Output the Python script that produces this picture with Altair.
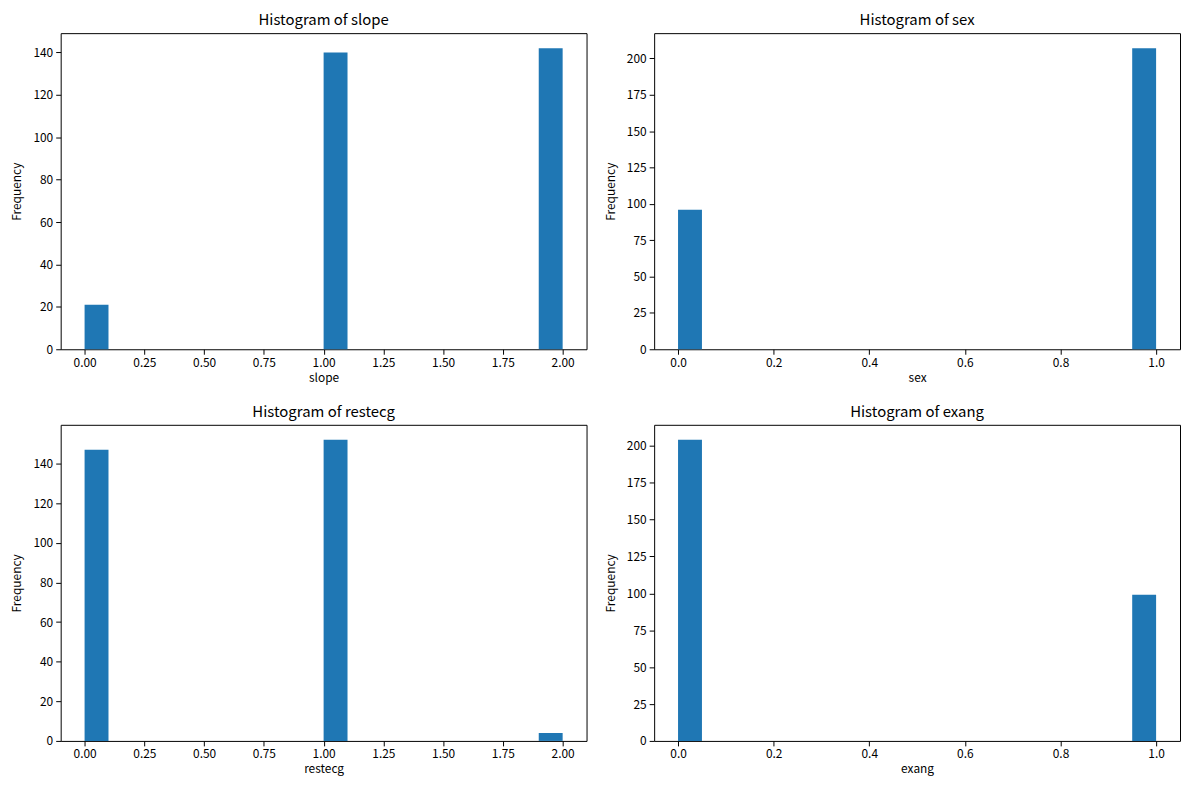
import altair as alt
import pandas as pd
import math

# ---- data ----
slope_values = [0, 1, 2]
slope_counts = [21, 140, 142]
sex_values = [0, 1]
sex_counts = [96, 207]
restecg_values = [0, 1, 2]
restecg_counts = [147, 152, 4]
exang_values = [0, 1]
exang_counts = [204, 99]

slope_yticks = [0, 20, 40, 60, 80, 100, 120, 140]
sex_yticks = [0, 25, 50, 75, 100, 125, 150, 175, 200]
restecg_yticks = [0, 20, 40, 60, 80, 100, 120, 140]
exang_yticks = [0, 25, 50, 75, 100, 125, 150, 175, 200]
xticks_012 = [0.0, 0.25, 0.5, 0.75, 1.0, 1.25, 1.5, 1.75, 2.0]
xticks_01 = [0.0, 0.2, 0.4, 0.6, 0.8, 1.0]

N_BINS = 20
BLUE = "#1f77b4"
FONT = "Noto Sans CJK SC"
W, H = 529, 318


def panel(name, values, counts, yticks, xticks, xfmt):
    vmin, vmax = min(values), max(values)
    bw = (vmax - vmin) / N_BINS
    starts, ends = [], []
    for v in values:
        k = min(int(math.floor((v - vmin) / bw + 1e-9)), N_BINS - 1)
        starts.append(vmin + k * bw)
        ends.append(vmin + (k + 1) * bw)
    df = pd.DataFrame({"x0": starts, "x1": ends, "count": counts})
    span = vmax - vmin
    xdom = [vmin - 0.05 * span, vmax + 0.05 * span]
    ydom = [0, max(counts) * 1.05]
    return (
        alt.Chart(df)
        .mark_rect(color=BLUE)
        .encode(
            x=alt.X(
                "x0:Q",
                scale=alt.Scale(domain=xdom, nice=False, zero=False),
                axis=alt.Axis(values=xticks, format=xfmt, title=name),
            ),
            x2="x1:Q",
            y=alt.Y(
                "count:Q",
                scale=alt.Scale(domain=ydom, nice=False),
                axis=alt.Axis(values=yticks, title="Frequency"),
            ),
            y2=alt.datum(0),
        )
        .properties(
            width=W,
            height=H,
            title=alt.TitleParams(
                f"Histogram of {name}", fontSize=15, font=FONT,
                fontWeight="normal", offset=5, color="black",
            ),
        )
    )


p1 = panel("slope", slope_values, slope_counts, slope_yticks, xticks_012, ".2f")
p2 = panel("sex", sex_values, sex_counts, sex_yticks, xticks_01, ".1f")
p3 = panel("restecg", restecg_values, restecg_counts, restecg_yticks, xticks_012, ".2f")
p4 = panel("exang", exang_values, exang_counts, exang_yticks, xticks_01, ".1f")

row1 = alt.hconcat(p1, p2, spacing=16)
row2 = alt.hconcat(p3, p4, spacing=16)

chart = (
    alt.vconcat(row1, row2, spacing=20)
    .properties(padding={"left": 2, "top": 2, "right": 0, "bottom": 0})
    .configure_view(stroke="black", strokeWidth=1)
    .configure_axis(
        grid=False,
        domain=False,
        tickColor="black",
        tickSize=5,
        tickWidth=1,
        labelColor="black",
        labelFont=FONT,
        labelFontSize=12,
        labelPadding=3,
        titleFont=FONT,
        titleFontSize=12,
        titleFontWeight="normal",
        titleColor="black",
    )
    .configure_axisY(titlePadding=9)
    .configure_axisX(titlePadding=4)
)

chart.save("out.html", embed_options={"renderer": "svg", "actions": False})
